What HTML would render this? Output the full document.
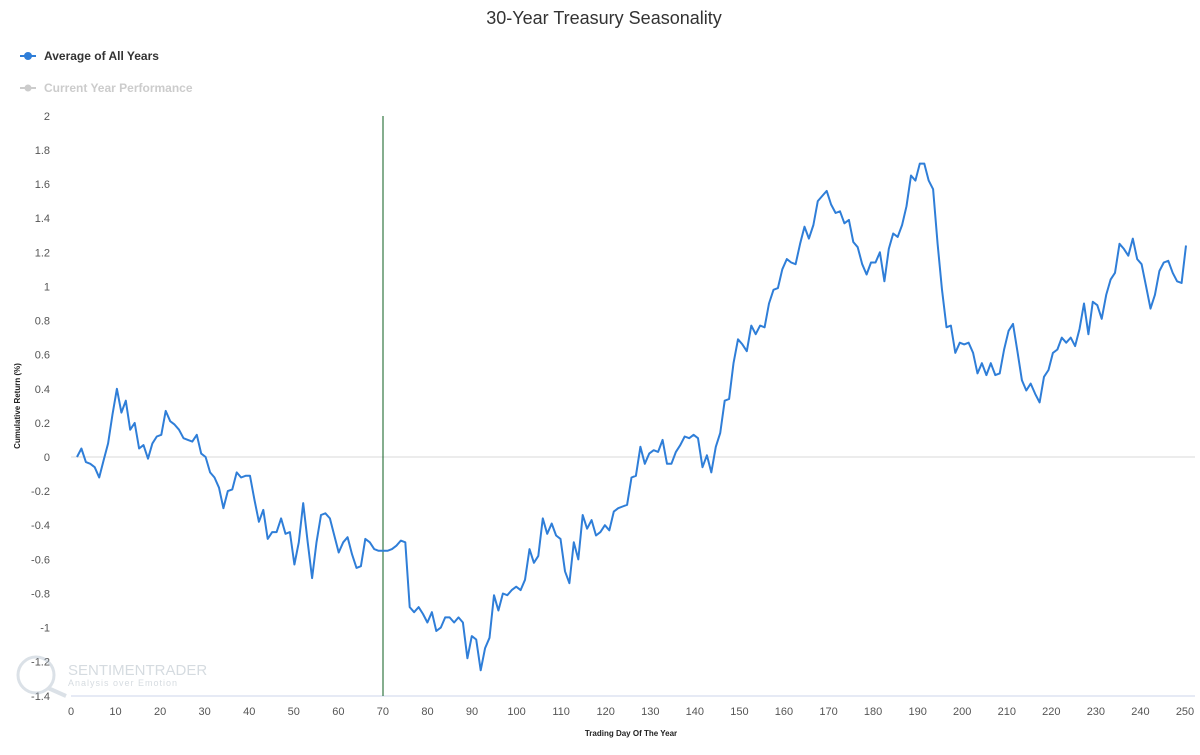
<!DOCTYPE html>
<html><head><meta charset="utf-8"><style>
body{margin:0;background:#fff;width:1200px;height:750px;overflow:hidden;font-family:"Liberation Sans",sans-serif}
</style></head><body>
<svg id="s" width="1200" height="750" xmlns="http://www.w3.org/2000/svg" font-family="Liberation Sans, sans-serif">
<text x="604" y="24" text-anchor="middle" font-size="18" fill="#333">30-Year Treasury Seasonality</text>
<line x1="20" y1="56" x2="36" y2="56" stroke="#2f7ed8" stroke-width="2"/><circle cx="28" cy="56" r="4" fill="#2f7ed8"/>
<text x="44" y="60" font-size="12" font-weight="bold" fill="#333">Average of All Years</text>
<line x1="20" y1="88" x2="36" y2="88" stroke="#ccc" stroke-width="2"/><circle cx="28" cy="88" r="3.5" fill="#ccc"/>
<text x="44" y="92" font-size="12" font-weight="bold" fill="#ccc">Current Year Performance</text>
<g id="ax" font-size="11" fill="#555"></g>
<text transform="translate(20,406) rotate(-90)" text-anchor="middle" font-size="8" font-weight="bold" fill="#222">Cumulative Return (%)</text>
<text x="631" y="736" text-anchor="middle" font-size="8" font-weight="bold" fill="#222">Trading Day Of The Year</text>
<line x1="71" y1="457" x2="1195" y2="457" stroke="#d8d8d8" stroke-width="1"/>
<line x1="71" y1="696" x2="1195" y2="696" stroke="#ccd6eb" stroke-width="1"/>
<line x1="383" y1="116" x2="383" y2="696" stroke="#0b5d1e" stroke-width="1"/>
<g opacity="0.35"><circle cx="36" cy="675" r="18" fill="none" stroke="#9ab" stroke-width="3"/><line x1="48" y1="688" x2="66" y2="696" stroke="#9ab" stroke-width="4"/>
<text x="68" y="675" font-size="15" fill="#8a9aa8">SENTIMENTRADER</text><text x="68" y="686" font-size="9" fill="#8a9aa8" letter-spacing="1">Analysis over Emotion</text></g>
<polyline id="p" fill="none" stroke="#2f7ed8" stroke-width="2" stroke-linejoin="round"/>
</svg>
<script>
var v=[0,0.05,-0.03,-0.04,-0.06,-0.12,-0.02,0.08,0.25,0.40,0.26,0.33,0.16,0.20,0.05,0.07,-0.01,0.08,0.12,0.13,0.27,0.21,0.19,0.16,0.11,0.10,0.09,0.13,0.02,0.00,-0.09,-0.12,-0.18,-0.30,-0.20,-0.19,-0.09,-0.12,-0.11,-0.11,-0.25,-0.38,-0.31,-0.48,-0.44,-0.44,-0.36,-0.45,-0.44,-0.63,-0.50,-0.27,-0.50,-0.71,-0.50,-0.34,-0.33,-0.36,-0.46,-0.56,-0.50,-0.47,-0.57,-0.65,-0.64,-0.48,-0.50,-0.54,-0.55,-0.55,-0.55,-0.54,-0.52,-0.49,-0.50,-0.88,-0.91,-0.88,-0.92,-0.97,-0.91,-1.02,-1.00,-0.94,-0.94,-0.97,-0.94,-0.97,-1.18,-1.05,-1.07,-1.25,-1.12,-1.06,-0.81,-0.90,-0.80,-0.81,-0.78,-0.76,-0.78,-0.72,-0.54,-0.62,-0.58,-0.36,-0.45,-0.39,-0.46,-0.48,-0.67,-0.74,-0.50,-0.60,-0.34,-0.42,-0.37,-0.46,-0.44,-0.40,-0.43,-0.32,-0.30,-0.29,-0.28,-0.12,-0.11,0.06,-0.04,0.02,0.04,0.03,0.10,-0.04,-0.04,0.03,0.07,0.12,0.11,0.13,0.11,-0.06,0.01,-0.09,0.06,0.14,0.33,0.34,0.55,0.69,0.66,0.62,0.77,0.72,0.77,0.76,0.90,0.98,0.99,1.10,1.16,1.14,1.13,1.25,1.35,1.28,1.36,1.50,1.53,1.56,1.48,1.43,1.44,1.37,1.39,1.26,1.23,1.13,1.07,1.14,1.14,1.20,1.03,1.22,1.31,1.29,1.36,1.47,1.65,1.62,1.72,1.72,1.62,1.57,1.25,0.98,0.76,0.77,0.61,0.67,0.66,0.67,0.61,0.49,0.55,0.48,0.55,0.48,0.49,0.63,0.74,0.78,0.62,0.45,0.39,0.43,0.37,0.32,0.47,0.51,0.61,0.63,0.70,0.67,0.70,0.65,0.75,0.90,0.72,0.91,0.89,0.81,0.95,1.04,1.08,1.25,1.22,1.18,1.28,1.16,1.13,1.00,0.87,0.95,1.09,1.14,1.15,1.08,1.03,1.02,1.24];
function X(d){return 71+d*4.456}function Y(y){return 457-y*170.6}
var n=v.length-1;
document.getElementById('p').setAttribute('points',v.map(function(y,i){return (77+i*1109/n).toFixed(1)+','+Y(y).toFixed(1)}).join(' '));
var g=document.getElementById('ax'),h='';
for(var k=0;k<=17;k++){var y=2-k*0.2;var t=Math.abs(y)<1e-9?'0':(+y.toFixed(1)).toString();h+='<text x="50" y="'+(Y(y)+4)+'" text-anchor="end">'+t+'</text>';}
for(var d=0;d<=250;d+=10){h+='<text x="'+X(d)+'" y="715" text-anchor="middle">'+d+'</text>';}
g.innerHTML=h;
</script>
</body></html>
